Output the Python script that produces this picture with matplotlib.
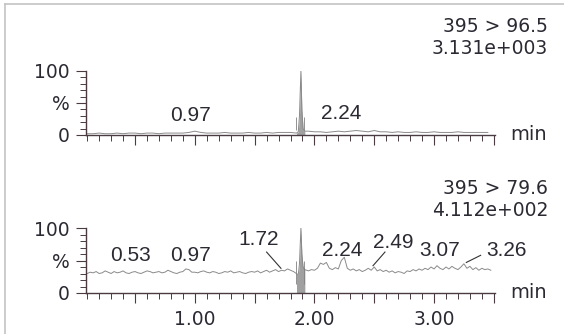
import numpy as np
import matplotlib.pyplot as plt
from matplotlib.ticker import MultipleLocator, FixedLocator, FuncFormatter

plt.rcParams['font.family'] = ['DejaVu Sans']

# ---- data ----
# upper trace 395 > 96.5 (percent of 3.131e+003)
top_base_v = [2, 2, 3, 2, 2, 3, 2, 3, 3, 2, 3, 3, 2, 3, 3, 3, 3, 4, 6, 4,
              3, 3, 3, 4, 3, 3, 3, 4, 3, 3, 4, 3, 4, 4, 4]   # 0.10 .. 1.80, every 0.05
top_peak_t = [1.85, 1.865, 1.875, 1.887, 1.895, 1.905, 1.92]
top_peak_v = [3, 5, 30, 100, 40, 10, 6]
top_tail_v = [6, 5, 5, 4, 5, 6, 5, 6, 7, 6, 5, 7, 5, 5, 4, 5, 4, 4, 5, 4,
              4, 5, 4, 4, 4, 5, 4, 4, 4, 4, 4]                # 1.95 .. 3.45, every 0.05

# lower trace 395 > 79.6 (percent of 4.112e+002)
bot_base_v = [30, 32, 31, 33, 30, 31, 34, 32, 30, 33, 31, 32, 34, 31, 30, 32,
              33, 31, 30, 32, 34, 33, 31, 32, 33, 31, 32, 35, 33, 31, 30, 32, 33, 37, 36, 32,
              32, 31, 33, 34, 32, 31, 33, 32, 30, 31, 33, 32, 34, 31, 32, 33, 31, 30, 32, 33,
              32, 34, 31, 33, 35, 32, 34, 36, 33, 35, 34, 37, 35, 33]   # 0.10 .. every 0.025
bot_peak_t = [1.85, 1.865, 1.875, 1.887, 1.895, 1.905, 1.92]
bot_peak_v = [30, 28, 45, 100, 60, 40, 36]
bot_tail_v = [34, 36, 35, 38, 46, 44, 47, 38, 36, 39, 37, 50, 55, 38, 35, 37,
              34, 36, 33, 35, 38, 35, 40, 34, 36, 33, 35, 32, 34, 31, 33, 32,
              30, 34, 33, 36, 34, 37, 35, 38, 36, 40, 37, 42, 38, 36, 40, 37,
              41, 38, 36, 40, 45, 38, 41, 36, 39, 35, 38, 36, 37, 35]   # 1.95 .. every 0.025

# peak integration marks (min) and their extent in %
mark_t = [1.845, 1.91]
top_mark = (8, 28)
bot_mark = (14, 50)

# peak labels: text, label position (t, %), leader line or None
top_labels = [('0.97', 0.96, 31, None), ('2.24', 2.22, 34, None)]
bot_labels = [('0.53', 0.46, 58, None), ('0.97', 0.96, 58, None),
              ('1.72', 1.53, 82, (1.60, 63, 1.72, 38)),
              ('2.24', 2.23, 66, None),
              ('2.49', 2.66, 78, (2.59, 63, 2.49, 42)),
              ('3.07', 3.05, 66, None),
              ('3.26', 3.61, 66, (3.39, 58, 3.27, 47))]

headers = [('395 > 96.5', '3.131e+003'), ('395 > 79.6', '4.112e+002')]

W, H = 564, 334
axis_col = '#4a3b42'
text_col = '#2b2a33'
trace_col = '#8a8a8a'


def merged(base_v, base_start, step, pt, pv, tail_v, tail_start):
    bt = base_start + step * np.arange(len(base_v))
    tt = tail_start + step * np.arange(len(tail_v))
    t = np.concatenate([bt, pt, tt])
    v = np.concatenate([base_v, pv, tail_v])
    return t, v


fig = plt.figure(figsize=(W / 100, H / 100), dpi=100)
fig.patch.set_facecolor('white')

# light frame round the whole printout
fig.add_artist(plt.Line2D([5 / W, 5 / W], [0, 1 - 4 / H], color='#c4c4c4', lw=1.2))
fig.add_artist(plt.Line2D([5 / W, 1], [1 - 4 / H, 1 - 4 / H], color='#c4c4c4', lw=1.2))

ax_top = fig.add_axes([86 / W, 1 - 135 / H, 409 / W, 64 / H])
ax_bot = fig.add_axes([86 / W, 1 - 293 / H, 409 / W, 65 / H])

traces = [
    merged(top_base_v, 0.10, 0.05, top_peak_t, top_peak_v, top_tail_v, 1.95),
    merged(bot_base_v, 0.10, 0.025, bot_peak_t, bot_peak_v, bot_tail_v, 1.95),
]
marks = [top_mark, bot_mark]
labels = [top_labels, bot_labels]
head_y = [(26, 48), (189, 211)]

for i, ax in enumerate([ax_top, ax_bot]):
    t, v = traces[i]
    ax.plot(t, v, color=trace_col, lw=0.7)
    sel = (t >= 1.85) & (t <= 1.92)
    ax.fill_between(t[sel], 0, v[sel], color='#a0a0a0', lw=0)
    ax.vlines(mark_t, marks[i][0], marks[i][1], color='#808080', lw=0.6)

    ax.set_xlim(0.09, 3.51)
    ax.set_ylim(0, 100)
    for s in ['top', 'right']:
        ax.spines[s].set_visible(False)
    for s in ['left', 'bottom']:
        ax.spines[s].set_color(axis_col)
        ax.spines[s].set_linewidth(1.0)

    ax.xaxis.set_major_locator(MultipleLocator(0.5))
    ax.xaxis.set_minor_locator(MultipleLocator(0.1))
    ax.yaxis.set_major_locator(FixedLocator([0, 50, 100]))
    ax.yaxis.set_minor_locator(MultipleLocator(10))
    ax.yaxis.set_major_formatter(FuncFormatter(lambda y, p: {0: '0', 50: '%', 100: '100'}[int(round(y))]))
    if i == 1:
        ax.xaxis.set_major_formatter(FuncFormatter(
            lambda x, p: '%.2f' % x if abs(x - round(x)) < 1e-6 else ''))
    else:
        ax.xaxis.set_major_formatter(FuncFormatter(lambda x, p: ''))

    ax.tick_params(axis='both', which='major', length=7, width=0.8, color=axis_col,
                   labelsize=13.5, labelcolor=text_col, pad=5)
    ax.tick_params(axis='both', which='minor', length=4, width=0.7, color=axis_col)
    ax.set_facecolor('none')

    for txt, lx, ly, lead in labels[i]:
        ax.text(lx, ly, txt, ha='center', va='center', fontsize=15,
                family='Liberation Sans', color=text_col)
        if lead is not None:
            ax.plot([lead[0], lead[2]], [lead[1], lead[3]], color='#333333', lw=0.8)

    ax.text(1.037, 0.01, 'min', transform=ax.transAxes, ha='left', va='center',
            fontsize=14, color=text_col)

    fig.text(548 / W, 1 - head_y[i][0] / H, headers[i][0], ha='right', va='center',
             fontsize=13.5, color=text_col)
    fig.text(548 / W, 1 - head_y[i][1] / H, headers[i][1], ha='right', va='center',
             fontsize=13.5, color=text_col)

fig.savefig('out.png', dpi=100)
